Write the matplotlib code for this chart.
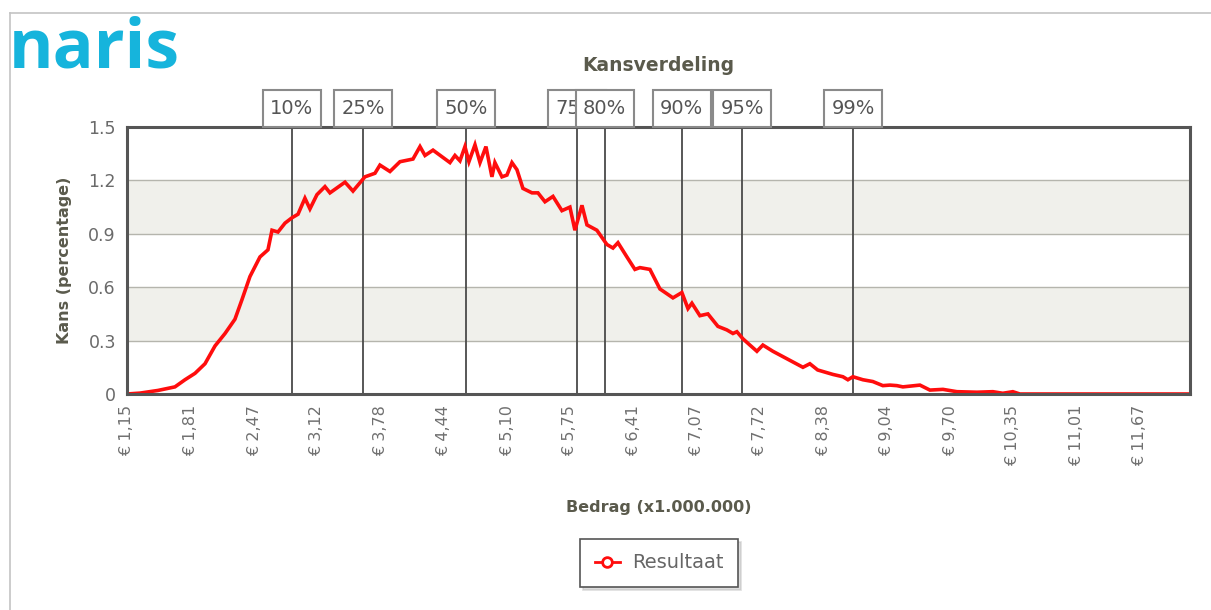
import matplotlib
matplotlib.use("Agg")
import matplotlib.pyplot as plt
import matplotlib.transforms as mtransforms
from matplotlib.patches import Rectangle
from matplotlib.lines import Line2D

# ---- data (amount in millions of euro, probability in percent) ----
amount = [1.15, 1.285, 1.472, 1.648, 1.752, 1.856, 1.96, 2.064, 2.168, 2.271,
          2.344, 2.427, 2.531, 2.614, 2.656, 2.718, 2.791, 2.863, 2.926, 2.998,
          3.05, 3.123, 3.206, 3.258, 3.414, 3.497, 3.621, 3.725, 3.777, 3.881,
          3.985, 4.12, 4.193, 4.245, 4.328, 4.504, 4.556, 4.608, 4.66, 4.701,
          4.764, 4.816, 4.878, 4.94, 4.971, 5.044, 5.096, 5.148, 5.2, 5.262,
          5.356, 5.418, 5.491, 5.574, 5.667, 5.75, 5.802, 5.875, 5.927, 6.03,
          6.134, 6.197, 6.249, 6.342, 6.425, 6.477, 6.581, 6.685, 6.82, 6.913,
          6.976, 7.017, 7.1, 7.183, 7.287, 7.38, 7.443, 7.484, 7.547, 7.619,
          7.692, 7.754, 7.858, 7.962, 8.066, 8.17, 8.242, 8.323, 8.481, 8.585,
          8.637, 8.689, 8.793, 8.896, 9.0, 9.073, 9.146, 9.208, 9.385, 9.489,
          9.624, 9.769, 9.977, 10.143, 10.246, 10.35, 10.423, 12.19]
kans = [0.0, 0.005, 0.02, 0.04, 0.08, 0.116, 0.17, 0.27, 0.34, 0.42,
        0.53, 0.66, 0.77, 0.81, 0.92, 0.91, 0.96, 0.99, 1.01, 1.10,
        1.04, 1.12, 1.165, 1.13, 1.19, 1.14, 1.22, 1.24, 1.286, 1.25,
        1.305, 1.32, 1.39, 1.34, 1.37, 1.30, 1.34, 1.31, 1.39, 1.305,
        1.40, 1.30, 1.39, 1.22, 1.30, 1.22, 1.23, 1.30, 1.26, 1.155,
        1.13, 1.13, 1.08, 1.11, 1.03, 1.05, 0.92, 1.06, 0.95, 0.92,
        0.84, 0.82, 0.85, 0.77, 0.70, 0.71, 0.70, 0.59, 0.54, 0.57,
        0.48, 0.51, 0.44, 0.45, 0.38, 0.36, 0.34, 0.35, 0.31, 0.275,
        0.24, 0.275, 0.24, 0.21, 0.18, 0.15, 0.17, 0.135, 0.11, 0.097,
        0.08, 0.097, 0.08, 0.07, 0.047, 0.05, 0.047, 0.04, 0.05, 0.022,
        0.026, 0.013, 0.01, 0.013, 0.004, 0.013, 0.0, 0.0]

pct_labels = ["10%", "25%", "50%", "75%", "80%", "90%", "95%", "99%"]
pct_values = [2.86, 3.60, 4.67, 5.82, 6.11, 6.91, 7.54, 8.69]

xtick_values = [1.15, 1.81, 2.47, 3.12, 3.78, 4.44, 5.10, 5.75, 6.41, 7.07,
                7.72, 8.38, 9.04, 9.70, 10.35, 11.01, 11.67]
xtick_labels = ["€ 1,15", "€ 1,81", "€ 2,47", "€ 3,12", "€ 3,78", "€ 4,44",
                "€ 5,10", "€ 5,75", "€ 6,41", "€ 7,07", "€ 7,72", "€ 8,38",
                "€ 9,04", "€ 9,70", "€ 10,35", "€ 11,01", "€ 11,67"]
ytick_values = [0, 0.3, 0.6, 0.9, 1.2, 1.5]
ytick_labels = ["0", "0.3", "0.6", "0.9", "1.2", "1.5"]

# ---- figure ----
W, H = 1211, 610
fig = plt.figure(figsize=(W / 100, H / 100), dpi=100)
fig.patch.set_facecolor("white")

# frame around the page
fig.add_artist(Line2D([10 / W, 1.0], [1 - 13 / H, 1 - 13 / H], color="#c4c4c4", lw=1.2))
fig.add_artist(Line2D([10 / W, 10 / W], [0.0, 1 - 13 / H], color="#c4c4c4", lw=1.2))

# logo
fig.text(9 / W, 1 - 68 / H, "naris", color="#16b4dc", fontsize=49,
         fontweight="bold", family="Open Sans", ha="left", va="baseline")

ax = fig.add_axes([127 / W, 1 - 394 / H, (1190 - 127) / W, (394 - 127) / H])
ax.set_xlim(1.15, 12.19)
ax.set_ylim(0, 1.5)

# alternating bands + grid
for lo, hi in [(0.3, 0.6), (0.9, 1.2)]:
    ax.axhspan(lo, hi, color="#f0f0eb", zorder=0, lw=0)
for yv in ytick_values[1:-1]:
    ax.axhline(yv, color="#b5b5ad", lw=1.0, zorder=1)

# percentile lines
for v in pct_values:
    ax.axvline(v, color="#4a4a4a", lw=1.3, zorder=2)

ax.plot(amount, kans, color="#ff0d0d", lw=2.6, zorder=3, solid_joinstyle="miter")

for s in ax.spines.values():
    s.set_color("#555555")
    s.set_linewidth(2.2)
    s.set_zorder(4)

ax.set_xticks(xtick_values)
ax.set_xticklabels(xtick_labels, rotation=90, fontsize=11.5, color="#707070")
ax.set_yticks(ytick_values)
ax.set_yticklabels(ytick_labels, fontsize=12.5, color="#6a6a6a")
ax.tick_params(axis="both", length=0)
ax.tick_params(axis="x", pad=8)
ax.tick_params(axis="y", pad=8)

ax.set_xlabel("Bedrag (x1.000.000)", fontsize=11.5, fontweight="bold",
              color="#5a5a4c", labelpad=24)
ax.set_ylabel("Kans (percentage)", fontsize=11.5, fontweight="bold",
              color="#5a5a4c", labelpad=12)
ax.set_title("Kansverdeling", fontsize=13.5, fontweight="bold",
             color="#5a5a4c", pad=40)

# percentile label boxes above plot (later boxes drawn over earlier ones)
trans = mtransforms.blended_transform_factory(ax.transData, ax.transAxes)
px_per_unit = (1190 - 127) / (12.19 - 1.15)
box_w = 58 / px_per_unit
box_h = 37 / (394 - 127)
for i, (lab, v) in enumerate(zip(pct_labels, pct_values)):
    ax.add_patch(Rectangle((v - box_w / 2, 1.0), box_w, box_h, transform=trans,
                           facecolor="white", edgecolor="#8a8a8a", lw=1.5,
                           clip_on=False, zorder=6 + 2 * i))
    ax.text(v, 1.0 + box_h / 2, lab, transform=trans, ha="center", va="center",
            fontsize=14, color="#555555", zorder=7 + 2 * i, clip_on=False)

# legend
handle = Line2D([], [], color="#ff0d0d", lw=2, marker="o", markersize=7,
                markerfacecolor="white", markeredgecolor="#ff0d0d", markeredgewidth=2)
leg = fig.legend([handle], ["Resultaat"], loc="center",
                 bbox_to_anchor=(659 / W, 1 - 563 / H), frameon=True,
                 fancybox=False, shadow={"color": "#bdbdbd"}, fontsize=14,
                 handlelength=1.3, borderpad=0.75, handletextpad=0.6,
                 labelcolor="#666666")
leg.get_frame().set_edgecolor("#555555")
leg.get_frame().set_linewidth(1.2)

fig.savefig("out.png", dpi=100, facecolor="white")
